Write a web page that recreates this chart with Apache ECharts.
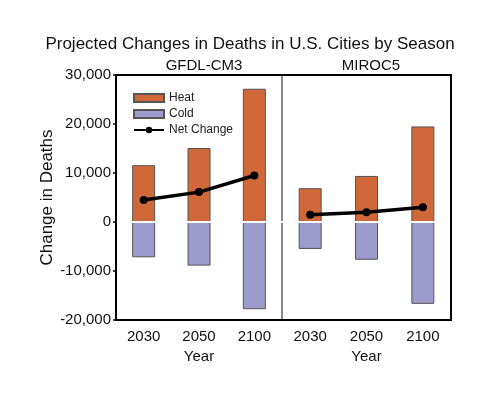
<!DOCTYPE html>
<html>
<head>
<meta charset="utf-8">
<script src="https://cdn.jsdelivr.net/npm/echarts@6/dist/echarts.min.js"></script>
<style>
    html, body { margin: 0; padding: 0; background: #fff; }
    #chart { width: 500px; height: 396px; }
</style>
</head>
<body>
<div id="chart"></div>
<script>
// data
var years = ['2030', '2050', '2100'];
var gfdlHeat = [11600, 15100, 27200];
var gfdlCold = [-7200, -8900, -17800];
var gfdlNet = [4500, 6100, 9500];
var mirocHeat = [6900, 9400, 19500];
var mirocCold = [-5500, -7700, -16700];
var mirocNet = [1500, 2000, 3000];
var yTicks = { min: -20000, max: 30000, step: 10000 };

var heatColor = '#D0683A', coldColor = '#9D9ACC';
var font = 'Liberation Sans, Arial, sans-serif';

function fmt(v) {
    return String(v).replace(/\B(?=(\d{3})+(?!\d))/g, ',');
}

function yAxisFor(i) {
    return {
        type: 'value', gridIndex: i, min: yTicks.min, max: yTicks.max, interval: yTicks.step,
        splitLine: { show: false },
        axisLine: i == 1 ? { show: true, lineStyle: { color: '#8a8a8a', width: 2 } } : { show: false },
        axisTick: { show: i == 0, length: 3, lineStyle: { color: '#000', width: 1.5 } },
        axisLabel: { show: i == 0, formatter: fmt, fontSize: 15, color: '#111', fontFamily: font, margin: 5 },
        name: i == 0 ? 'Change in Deaths' : '',
        nameLocation: 'middle', nameGap: 59,
        nameTextStyle: { fontSize: 17, color: '#111', fontFamily: font }
    };
}

function xAxisFor(i) {
    return {
        type: 'category', gridIndex: i, data: years,
        axisLine: { show: false }, axisTick: { show: false },
        axisLabel: { fontSize: 15, color: '#111', fontFamily: font, margin: 9 },
        name: 'Year', nameLocation: 'middle', nameGap: 21,
        nameTextStyle: { fontSize: 15, color: '#111', fontFamily: font }
    };
}

function barSeries(name, data, i, color) {
    return {
        name: name, type: 'bar', xAxisIndex: i, yAxisIndex: i, stack: 'p' + i,
        data: data, barWidth: 23,
        itemStyle: { color: color, borderColor: '#555', borderWidth: 1 }
    };
}

function netSeries(data, i) {
    return {
        name: 'Net Change', type: 'line', xAxisIndex: i, yAxisIndex: i, data: data,
        symbol: 'circle', symbolSize: 8, z: 5,
        itemStyle: { color: '#000' },
        lineStyle: { color: '#000', width: 3.5 },
        markLine: {
            silent: true, symbol: 'none', label: { show: false },
            lineStyle: { color: '#fff', width: 2, type: 'solid' },
            data: [{ yAxis: 0 }]
        }
    };
}

var chart = echarts.init(document.getElementById('chart'));
chart.setOption({
    backgroundColor: '#fff',
    animation: false,
    title: [
        { text: 'Projected Changes in Deaths in U.S. Cities by Season', left: 'center', top: 31,
          textStyle: { fontSize: 17, fontWeight: 'normal', color: '#111', fontFamily: font } },
        { text: 'GFDL-CM3', left: 199, textAlign: 'center', top: 53,
          textStyle: { fontSize: 15, fontWeight: 'normal', color: '#111', fontFamily: font } },
        { text: 'MIROC5', left: 366, textAlign: 'center', top: 53,
          textStyle: { fontSize: 15, fontWeight: 'normal', color: '#111', fontFamily: font } }
    ],
    legend: {
        orient: 'vertical', left: 128, top: 87, itemGap: 4,
        itemWidth: 30, itemHeight: 8,
        data: [{ name: 'Heat', icon: 'rect' }, { name: 'Cold', icon: 'rect' }, 'Net Change'],
        textStyle: { fontSize: 12, color: '#222', fontFamily: font, padding: [2, 0, 0, 0] }
    },
    grid: [
        { left: 116, top: 75, width: 166, height: 245 },
        { left: 282, top: 75, width: 169, height: 245 },
        { left: 116, top: 75, width: 335, height: 245, show: true, borderColor: '#000', borderWidth: 2, backgroundColor: 'transparent', z: 10 }
    ],
    xAxis: [xAxisFor(0), xAxisFor(1), { type: 'value', gridIndex: 2, show: false }],
    yAxis: [yAxisFor(0), yAxisFor(1), { type: 'value', gridIndex: 2, show: false }],
    series: [
        barSeries('Heat', gfdlHeat, 0, heatColor),
        barSeries('Cold', gfdlCold, 0, coldColor),
        netSeries(gfdlNet, 0),
        barSeries('Heat', mirocHeat, 1, heatColor),
        barSeries('Cold', mirocCold, 1, coldColor),
        netSeries(mirocNet, 1)
    ]
});
</script>
</body>
</html>
